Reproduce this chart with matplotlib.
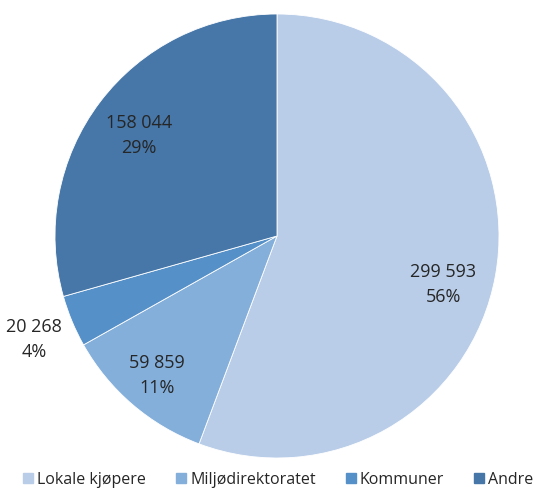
import numpy as np
import matplotlib.pyplot as plt
from matplotlib.lines import Line2D

categories = ["Lokale kjøpere", "Miljødirektoratet", "Kommuner", "Andre"]
values = [299593, 59859, 20268, 158044]
colors = ["#b9cde8", "#84afdb", "#5590c8", "#4677a8"]

# label placement (radius in pie units, angle nudge in degrees)
label_r = [0.78, 0.83, 1.19, 0.77]
label_nudge = [-6, 0, 0.5, 1.0]

plt.rcParams["font.family"] = ["Open Sans", "DejaVu Sans"]

fig = plt.figure(figsize=(5.34, 4.88), dpi=100)
ax = fig.add_axes([55 / 534, 30 / 488, 444 / 534, 444 / 488])

wedges, _ = ax.pie(
    values,
    colors=colors,
    startangle=90,
    counterclock=False,
    radius=1,
    wedgeprops=dict(edgecolor="white", linewidth=0.6),
)
ax.set_xlim(-1, 1)
ax.set_ylim(-1, 1)
ax.set_aspect("equal")

total = sum(values)
for w, v, r, nd in zip(wedges, values, label_r, label_nudge):
    ang = np.deg2rad((w.theta1 + w.theta2) / 2 + nd)
    x, y = r * np.cos(ang), r * np.sin(ang)
    txt = f"{v:,}".replace(",", " ") + "\n" + f"{round(100 * v / total)}%"
    ax.text(x, y, txt, ha="center", va="center", fontsize=13,
            color="#262626", linespacing=1.5)

handles = [Line2D([], [], marker="s", linestyle="none", markersize=7.5,
                  markerfacecolor=c, markeredgecolor=c) for c in colors]
fig.legend(handles, categories, loc="center left", bbox_to_anchor=(23 / 534, 8 / 488),
           ncol=4, frameon=False, fontsize=11.5, handlelength=0.65,
           handletextpad=0.25, columnspacing=1.85, borderpad=0,
           borderaxespad=0, labelcolor="#262626")

fig.savefig("out.png", dpi=100)
